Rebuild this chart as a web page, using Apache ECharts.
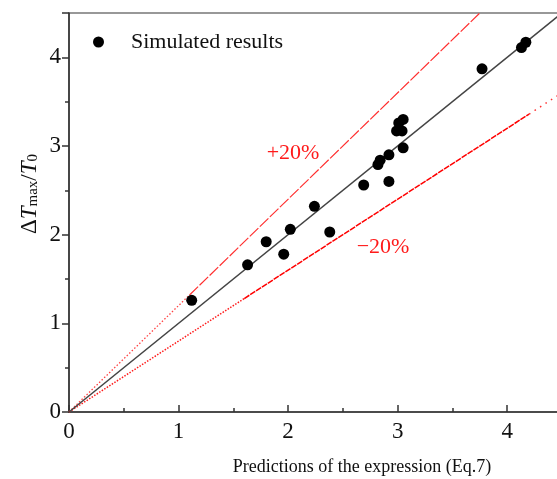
<!DOCTYPE html>
<html><head><meta charset="utf-8">
<script src="https://cdn.jsdelivr.net/npm/echarts@6/dist/echarts.min.js"></script>
<style>html,body{margin:0;padding:0;background:#fff}#c{width:557px;height:479px}</style>
</head><body><div id="c"></div>
<script>
// Simulated results: prediction (x) vs simulated ΔTmax/T0 (y)
const predicted = [1.12, 1.63, 1.80, 1.96, 2.02, 2.24, 2.38, 2.69, 2.82, 2.84, 2.92, 2.92, 2.99, 3.04, 3.05, 3.01, 3.05, 3.77, 4.13, 4.17];
const simulated = [1.26, 1.66, 1.92, 1.78, 2.06, 2.32, 2.03, 2.56, 2.79, 2.84, 2.90, 2.60, 3.17, 3.17, 2.98, 3.26, 3.30, 3.87, 4.11, 4.17];
const seriesName = 'Simulated results';
const tickValues = [0, 1, 2, 3, 4];

// reference lines (endpoints)
const parityLine = [[0, 0], [4.5, 4.5]];
const plus20Dotted = [[0, 0], [1.1, 1.32]];
const plus20Dashed = [[1.1, 1.32], [3.75, 4.5]];
const minus20Dotted = [[0, 0], [1.6, 1.28]];
const minus20Solid = [[1.6, 1.28], [4.2, 3.36]];
const minus20Sparse = [[4.2, 3.36], [4.5, 3.6]];
const plusLabel = '+20%';
const minusLabel = '\u221220%';
const xTitle = 'Predictions of the expression (Eq.7)';

const FONT = 'Liberation Serif';
const chart = echarts.init(document.getElementById('c'), null, {renderer: 'canvas'});

const majorAxis = (extra) => Object.assign({
  type: 'value', min: 0, max: 4.5, interval: 1,
  axisLine: {show: true, lineStyle: {color: '#333', width: 1.5}},
  splitLine: {show: false},
  axisLabel: {fontFamily: FONT, fontSize: 23, color: '#111', margin: 8,
    formatter: v => tickValues.includes(v) ? String(v) : ''}
}, extra);
const minorAxis = (extra) => Object.assign({
  type: 'value', min: 0, max: 4.5, interval: 0.5,
  axisLine: {show: false}, splitLine: {show: false},
  axisLabel: {show: false}
}, extra);

const lineSeries = (data, color, type, width) => ({
  type: 'line', data, symbol: 'none', silent: true, z: 2,
  lineStyle: {color, type, width}, animation: false
});

chart.setOption({
  animation: false,
  grid: {left: 69, top: 13, width: 493, height: 399, containLabel: false, outerBoundsMode: 'none',
    show: true, borderColor: '#333', borderWidth: 1.2},
  xAxis: [
    majorAxis({position: 'bottom', axisTick: {show: true, inside: true, length: 7, lineStyle: {color: '#333', width: 1.5}}}),
    minorAxis({position: 'bottom', axisTick: {show: true, inside: true, length: 4, lineStyle: {color: '#333', width: 1.5}}})
  ],
  yAxis: [
    majorAxis({position: 'left', axisTick: {show: true, inside: false, length: 7, lineStyle: {color: '#333', width: 1.5}}}),
    minorAxis({position: 'left', axisTick: {show: true, inside: false, length: 4, lineStyle: {color: '#333', width: 1.5}}})
  ],
  legend: {
    data: [seriesName], left: 88, top: 26, itemWidth: 11, itemHeight: 11, icon: 'circle',
    textStyle: {fontFamily: FONT, fontSize: 22, color: '#111', padding: [0, 0, 0, 22]}
  },
  series: [
    lineSeries(plus20Dotted, '#ff4040', [1.5, 2], 1.3),
    lineSeries(plus20Dashed, '#ff3030', [12, 2], 1.2),
    lineSeries(minus20Dotted, '#ff1a1a', [1.5, 1.5], 1.5),
    lineSeries(minus20Solid, '#ff0000', [6, 1], 1.5),
    lineSeries(minus20Sparse, '#ff3030', [1.5, 5], 1.5),
    lineSeries(parityLine, '#444', 'solid', 1.5),
    {
      name: seriesName, type: 'scatter', z: 5, symbol: 'circle', symbolSize: 11,
      itemStyle: {color: '#000', opacity: 1},
      data: predicted.map((x, i) => [x, simulated[i]])
    }
  ],
  graphic: [
    {type: 'text', x: 293, y: 153, z: 10, style: {text: plusLabel, fill: '#ff1a1a', font: '22px "Liberation Serif"', align: 'center', verticalAlign: 'middle'}},
    {type: 'text', x: 383, y: 247, z: 10, style: {text: minusLabel, fill: '#ff1a1a', font: '22px "Liberation Serif"', align: 'center', verticalAlign: 'middle'}},
    {type: 'text', x: 362, y: 467, z: 10, style: {text: xTitle, fill: '#111', font: '18px "Liberation Serif"', align: 'center', verticalAlign: 'middle'}},
    {type: 'text', x: 28, y: 194, rotation: Math.PI / 2, z: 10, style: {
      text: '{n|\u0394}{i|T}{s|max}{n|/}{i|T}{s|0}', fill: '#111', align: 'center', verticalAlign: 'middle',
      rich: {
        n: {fontFamily: FONT, fontSize: 23, lineHeight: 26, verticalAlign: 'bottom', fill: '#111'},
        i: {fontFamily: FONT, fontSize: 23, fontStyle: 'italic', lineHeight: 26, verticalAlign: 'bottom', fill: '#111'},
        s: {fontFamily: FONT, fontSize: 15, lineHeight: 16, verticalAlign: 'bottom', fill: '#111'}
      }
    }}
  ]
});
</script></body></html>
